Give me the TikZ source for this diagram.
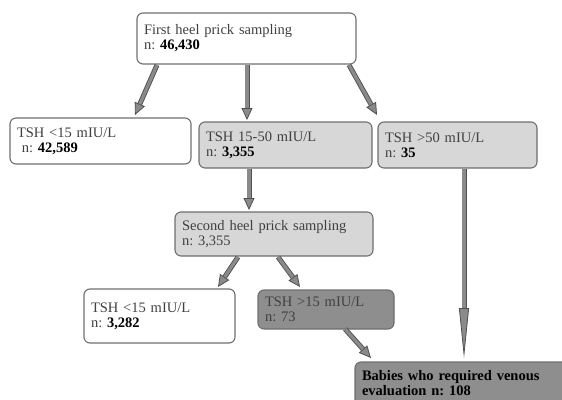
\documentclass[tikz,border=0pt]{standalone}
\usepackage{fontspec}
\setmainfont{Liberation Serif}
\usetikzlibrary{arrows.meta,calc}
\definecolor{boxedge}{HTML}{6E6E6E}
\definecolor{lightfill}{HTML}{D7D7D7}
\definecolor{darkfill}{HTML}{8E8E8E}
\definecolor{txt}{HTML}{404040}
\definecolor{arrfill}{HTML}{8A8A8A}
\definecolor{arredge}{HTML}{505050}
\newcommand\blkarrow[4][12pt]{%
  \draw[arrout,-{Triangle[length=#1,width=#2,line width=0.8pt,fill=arrfill]}] #3 -- #4;
  \draw[arrin,shorten >=#1] #3 -- #4;}
\frenchspacing
\begin{document}
\begin{tikzpicture}[x=1pt,y=-1pt,
  box/.style={draw=boxedge,line width=1.1pt,rounded corners=6pt,anchor=north west,
    inner xsep=7pt,inner ysep=3pt,align=left,font=\fontsize{14.5}{15}\selectfont\frenchspacing,
    text=txt,outer sep=0pt},
  light/.style={fill=lightfill},
  dark/.style={fill=darkfill},
  arrout/.style={line width=5pt,draw=arredge},
  arrin/.style={line width=3.2pt,draw=arrfill}]
\useasboundingbox (0,0) rectangle (562,399);

\node[box,minimum width=219pt,minimum height=51pt,text width=205pt] (b1) at (137,13)
  {First heel prick sampling\\n: \textcolor{black}{\textbf{46,430}}};
\node[box,minimum width=181pt,minimum height=46pt,text width=167pt] (l1) at (10,118)
  {TSH <15 mIU/L\\\ n: \textcolor{black}{\textbf{42,589}}};
\node[box,light,minimum width=173pt,minimum height=46pt,text width=159pt] (m1) at (199,122)
  {TSH 15-50 mIU/L\\n: \textcolor{black}{\textbf{3,355}}};
\node[box,light,minimum width=159pt,minimum height=46pt,text width=145pt] (r1) at (378,122)
  {TSH >50 mIU/L\\n: \textcolor{black}{\textbf{35}}};
\node[box,light,minimum width=198pt,minimum height=44pt,text width=184pt] (s2) at (175,212)
  {Second heel prick sampling\\n: 3,355};
\node[box,minimum width=151pt,minimum height=54pt,text width=137pt] (l2) at (84,289)
  {TSH <15 mIU/L\\n: \textcolor{black}{\textbf{3,282}}};
\node[box,dark,minimum width=136pt,minimum height=39pt,text width=122pt] (m2) at (258,290)
  {TSH >15 mIU/L\\n: 73};
\node[box,dark,minimum width=215pt,minimum height=56pt,text width=201pt,text depth=30pt,
  text=black,font=\fontsize{14.5}{15}\selectfont\bfseries\frenchspacing] (bb) at (355,362)
  {Babies who required venous\\evaluation n: 108};

\blkarrow{11pt}{($(b1.south west)+(20,1)$)}{($(l1.north west)+(125,-3)$)}
\blkarrow{11pt}{($(b1.south west)+(110,1)$)}{($(m1.north west)+(48,-2)$)}
\blkarrow{11pt}{($(b1.south east)+(-7,1)$)}{($(r1.north west)+(-1,-7)$)}
\blkarrow{11pt}{($(m1.south west)+(50,1)$)}{($(s2.north west)+(74,-2)$)}
\blkarrow[50pt]{10pt}{($(r1.south west)+(86,1)$)}{($(bb.north west)+(109,-4)$)}
\blkarrow{11pt}{($(s2.south west)+(63,1)$)}{($(l2.north west)+(134,-2)$)}
\blkarrow{11pt}{($(s2.south west)+(103,1)$)}{($(m2.north west)+(42,-3)$)}
\blkarrow{11pt}{($(m2.south west)+(87,0)$)}{($(bb.north west)+(16,-4)$)}
\end{tikzpicture}
\end{document}
